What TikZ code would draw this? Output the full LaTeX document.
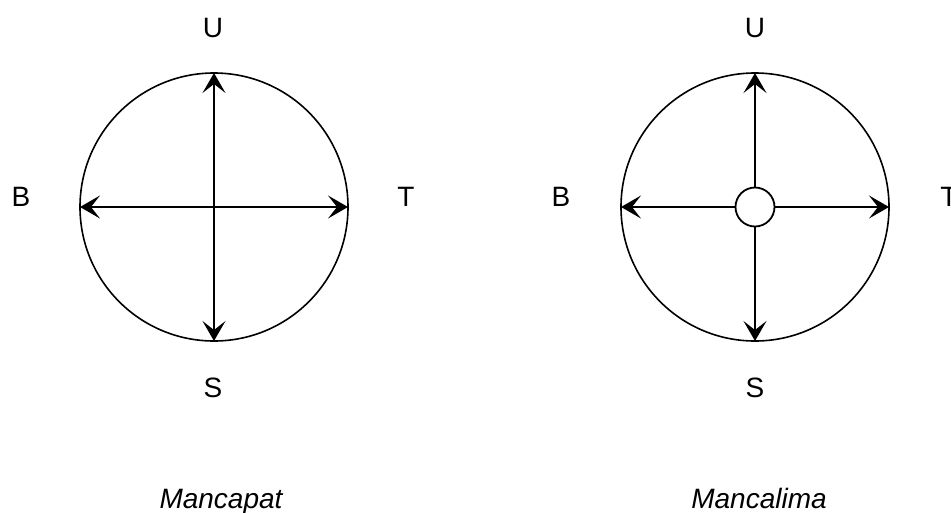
\documentclass[tikz,border=0pt]{standalone}
\usepackage{fontspec}
\setmainfont{Liberation Sans}
\usetikzlibrary{arrows.meta}
\begin{document}
\begin{tikzpicture}[x=1pt,y=-1pt,
  every node/.style={inner sep=0pt,outer sep=0pt},
  lbl/.style={font=\fontsize{28}{30}\selectfont},
  title/.style={font=\fontsize{28}{32}\selectfont\itshape,anchor=base},
  ring/.style={draw,line width=1.6pt,circle,minimum size=268pt},
  hub/.style={draw,line width=1.8pt,circle,minimum size=39pt},
  arr/.style={line width=1.4pt,-{Stealth[length=20pt,width=23pt,inset=9pt]}}]
\useasboundingbox (0,0) rectangle (951,512);
% left diagram
\node[ring] (c1) at (214,207) {};
\coordinate (o1) at (214,207);
\draw[arr] (o1) -- (c1.north);
\draw[arr] (o1) -- (c1.south);
\draw[arr] (o1) -- (c1.east);
\draw[arr] (o1) -- (c1.west);
\node[lbl] (u1) at (213,28) {U};
\node[lbl] (s1) at (213,388) {S};
\node[lbl] (b1) at (21,197) {B};
\node[lbl] (t1) at (406,197) {T};
\node[title] (m1) at (221,508) {Mancapat};
% right diagram
\node[ring] (c2) at (755,207) {};
\node[hub] (h2) at (755,207) {};
\draw[arr] (h2.north) -- (c2.north);
\draw[arr] (h2.south) -- (c2.south);
\draw[arr] (h2.east) -- (c2.east);
\draw[arr] (h2.west) -- (c2.west);
\node[lbl] (u2) at (755,28) {U};
\node[lbl] (s2) at (755,388) {S};
\node[lbl] (b2) at (561,197) {B};
\node[lbl] (t2) at (949,197) {T};
\node[title] (m2) at (759,508) {Mancalima};
\end{tikzpicture}
\end{document}
